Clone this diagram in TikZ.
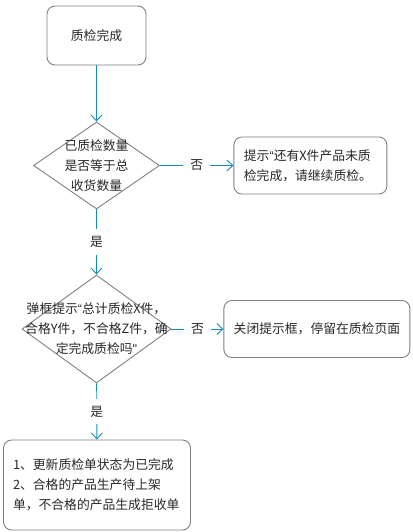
\documentclass[tikz,border=0pt]{standalone}
\usepackage{fontspec}
\setmainfont{Noto Sans CJK SC}
\newfontfamily\qf{Liberation Sans}
\usepackage{tikz}
\usetikzlibrary{shapes.geometric, arrows.meta, positioning}
\definecolor{cLine}{RGB}{16,144,182}
\definecolor{cBorder}{RGB}{128,128,128}
\definecolor{cText}{RGB}{40,40,40}
\tikzset{
	roundbox/.style ={rectangle, rounded corners=8pt, draw=cBorder, line width=0.9pt, text=cText, align=center, inner sep=0pt},
	decision/.style ={diamond, draw=cBorder, line width=0.9pt, inner sep=0pt},
	dtext/.style    ={text=cText, align=center, inner sep=0pt},
	flowarrow/.style={-{Straight Barb[length=6pt, width=11pt]}, draw=cLine, line width=0.9pt},
	answer/.style   ={fill=white, text=cText, inner sep=7pt},
}
\begin{document}
\begin{tikzpicture}[x=1pt, y=-1pt, font=\fontsize{12.8}{20}\selectfont]
	\useasboundingbox (0,0) rectangle (412,532);
	% start
	\node[roundbox, minimum width=99pt, minimum height=59pt] (done) at (96.5,35.5) {质检完成};
	% first check
	\node[decision, minimum width=126pt, minimum height=87pt] (chk1) at (96.5,165.5) {};
	\node[dtext] at (chk1) {已质检数量\\是否等于总\\收货数量};
	\node[roundbox, minimum width=153pt, minimum height=57pt, text width=133pt, align=left, right=73.5pt of chk1] (warn) {提示{\qf “}还有X件产品未质\\检完成，请继续质检。};
	% second check
	\node[decision, minimum width=149pt, minimum height=108pt] (chk2) at (96.5,329) {};
	\node[dtext] at (chk2) {弹框提示{\qf “}总计质检X件，\\合格Y件，不合格Z件，确\\定完成质检吗{\qf "}};
	\node[roundbox, minimum width=186pt, minimum height=57pt, right=52pt of chk2] (stay) {关闭提示框，停留在质检页面};
	% result
	\node[roundbox, minimum width=187pt, minimum height=90pt, text width=168pt, align=left] (finish) at (97,485) {1、更新质检单状态为已完成\\2、合格的产品生产待上架\\单，不合格的产品生成拒收单};
	% connectors
	\draw[flowarrow] (done) -- (chk1);
	\draw[flowarrow] (chk1) -- node[answer] {否} (warn);
	\draw[flowarrow] (chk1) -- node[answer] {是} (chk2);
	\draw[flowarrow] (chk2) -- node[answer] {否} (stay);
	\draw[flowarrow] (chk2) -- node[answer] {是} (finish);
\end{tikzpicture}
\end{document}
